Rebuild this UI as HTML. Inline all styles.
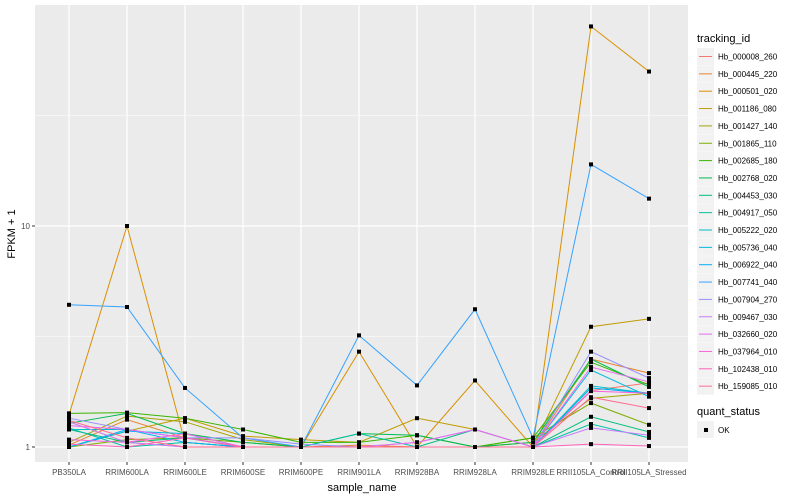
<!DOCTYPE html>
<html><head><meta charset="utf-8"><style>
body{margin:0;background:#fff;}
svg{display:block;font-family:"Liberation Sans",sans-serif;}
</style></head><body>
<svg id="chart" width="800" height="500" viewBox="0 0 800 500">
<rect x="35" y="5" width="653" height="457" fill="#EBEBEB"/>
<g id="grid"></g>
<g id="series"></g>
<g id="axes"></g>
<text x="362" y="491" font-size="11" text-anchor="middle" fill="#000">sample_name</text>
<text transform="translate(15,234) rotate(-90)" font-size="11" text-anchor="middle" fill="#000">FPKM + 1</text>
<g id="legend">
<text x="697" y="42" font-size="11" fill="#000">tracking_id</text>
<text x="697" y="415" font-size="11" fill="#000">quant_status</text>
<rect x="697" y="421" width="17" height="17" fill="#F2F2F2"/>
<rect x="704" y="428" width="4" height="4" fill="#000"/>
<text x="718" y="433" font-size="8" fill="#000">OK</text>
</g>
</svg>
<script>
const categories=["PB350LA","RRIM600LA","RRIM600LE","RRIM600SE","RRIM600PE","RRIM901LA","RRIM928BA","RRIM928LA","RRIM928LE","RRII105LA_Control","RRII105LA_Stressed"];
const seriesNames=["Hb_000008_260","Hb_000445_220","Hb_000501_020","Hb_001186_080","Hb_001427_140","Hb_001865_110","Hb_002685_180","Hb_002768_020","Hb_004453_030","Hb_004917_050","Hb_005222_020","Hb_005736_040","Hb_006922_040","Hb_007741_040","Hb_007904_270","Hb_009467_030","Hb_032660_020","Hb_037964_010","Hb_102438_010","Hb_159085_010"];
const seriesColors=["#F8766D","#EA8331","#D89000","#C09B00","#A3A500","#7CAE00","#39B600","#00BB4E","#00BF7D","#00C1A3","#00BFC4","#00BAE0","#00B0F6","#35A2FF","#9590FF","#C77CFF","#E76BF3","#FA62DB","#FF62BC","#FF6C91"];
const s01=[1.3,1.05,1.0,1.0,1.0,1.0,1.0,1.0,1.0,1.8,1.95];
const s02=[1.02,1.33,1.1,1.0,1.0,1.02,1.0,1.0,1.0,2.5,2.16];
const s03=[1.4,10,1.05,1.0,1.0,2.7,1.0,2.0,1.0,80,50];
const s04=[1.0,1.18,1.35,1.12,1.08,1.05,1.35,1.2,1.0,3.5,3.8];
const s05=[1.05,1.38,1.3,1.08,1.0,1.0,1.0,1.0,1.05,1.66,1.75];
const s06=[1.0,1.08,1.1,1.05,1.0,1.0,1.0,1.0,1.1,1.58,1.26];
const s07=[1.42,1.43,1.35,1.2,1.05,1.05,1.13,1.0,1.1,2.42,1.91];
const s08=[1.28,1.42,1.15,1.05,1.0,1.15,1.13,1.0,1.05,2.5,1.87];
const s09=[1.2,1.05,1.1,1.0,1.0,1.0,1.0,1.2,1.0,1.37,1.17];
const s10=[1.22,1.0,1.05,1.0,1.0,1.15,1.0,1.0,1.0,1.27,1.1];
const s11=[1.2,1.2,1.1,1.0,1.0,1.0,1.0,1.0,1.0,1.89,1.75];
const s12=[1.0,1.18,1.15,1.0,1.0,1.0,1.0,1.0,1.0,2.23,1.69];
const s13=[1.0,1.2,1.05,1.0,1.0,1.0,1.0,1.0,1.0,1.85,1.75];
const s14=[4.4,4.3,1.85,1.1,1.0,3.2,1.9,4.2,1.1,19,13.3];
const s15=[1.35,1.2,1.1,1.1,1.03,1.0,1.0,1.0,1.0,2.7,2.05];
const s16=[1.3,1.05,1.0,1.0,1.0,1.0,1.05,1.2,1.0,1.22,1.13];
const s17=[1.25,1.2,1.1,1.0,1.0,1.0,1.05,1.2,1.0,2.3,1.97];
const s18=[1.08,1.05,1.15,1.0,1.0,1.0,1.0,1.0,1.0,1.79,1.75];
const s19=[1.03,1.0,1.1,1.0,1.0,1.0,1.0,1.0,1.0,1.03,1.01];
const s20=[1.32,1.1,1.0,1.0,1.0,1.0,1.0,1.0,1.0,1.68,1.5];
const seriesValues=[s01,s02,s03,s04,s05,s06,s07,s08,s09,s10,s11,s12,s13,s14,s15,s16,s17,s18,s19,s20];
const yTicks=[1,10];
const yTickLabels=["1","10"];
const yMinor=[Math.sqrt(10),Math.sqrt(1000)];

const NS="http://www.w3.org/2000/svg";
const x0=69, step=58;
function xs(i){return x0+i*step;}
function ys(v){return 447-221*Math.log10(v);}
function mk(tag,attrs,parent){const e=document.createElementNS(NS,tag);for(const k in attrs)e.setAttribute(k,attrs[k]);parent.appendChild(e);return e;}
const grid=document.getElementById('grid'),ser=document.getElementById('series'),axes=document.getElementById('axes'),leg=document.getElementById('legend');
yMinor.forEach(v=>{const l=mk('line',{x1:35,x2:688,y1:ys(v),y2:ys(v),stroke:'#fff','stroke-width':0.6},grid);

});
yTicks.forEach((v,i)=>{const l=mk('line',{x1:35,x2:688,y1:ys(v),y2:ys(v),stroke:'#fff','stroke-width':1.2},grid);


const t=mk('line',{x1:32,x2:35,y1:ys(v),y2:ys(v),stroke:'#333','stroke-width':1},axes);


const tx=mk('text',{x:30,y:ys(v)+3,'font-size':8,'text-anchor':'end',fill:'#4D4D4D'},axes);tx.textContent=yTickLabels[i];

});
categories.forEach((c,i)=>{const l=mk('line',{x1:xs(i),x2:xs(i),y1:5,y2:462,stroke:'#fff','stroke-width':1.2},grid);


const t=mk('line',{x1:xs(i),x2:xs(i),y1:462,y2:465,stroke:'#333','stroke-width':1},axes);


const tx=mk('text',{x:xs(i),y:475,'font-size':8,'text-anchor':'middle',fill:'#4D4D4D'},axes);tx.textContent=c;

});
seriesValues.forEach((vals,si)=>{const pts=vals.map((v,i)=>xs(i)+','+ys(v)).join(' ');
const p=mk('polyline',{points:pts,fill:'none',stroke:seriesColors[si],'stroke-width':1},ser);

});
seriesValues.forEach((vals,si)=>{vals.forEach((v,i)=>{const r=mk('rect',{x:xs(i)-2,y:ys(v)-2,width:4,height:4,fill:'#000'},ser);

});});
seriesNames.forEach((n,i)=>{const y=48+i*17.35;
const b=mk('rect',{x:697,y:y,width:17,height:17,fill:'#F2F2F2'},leg);


const l=mk('line',{x1:699,x2:712,y1:y+8.5,y2:y+8.5,stroke:seriesColors[i],'stroke-width':1},leg);


const t=mk('text',{x:718,y:y+11.5,'font-size':8,fill:'#000'},leg);t.textContent=n;

});
</script>
</body></html>
